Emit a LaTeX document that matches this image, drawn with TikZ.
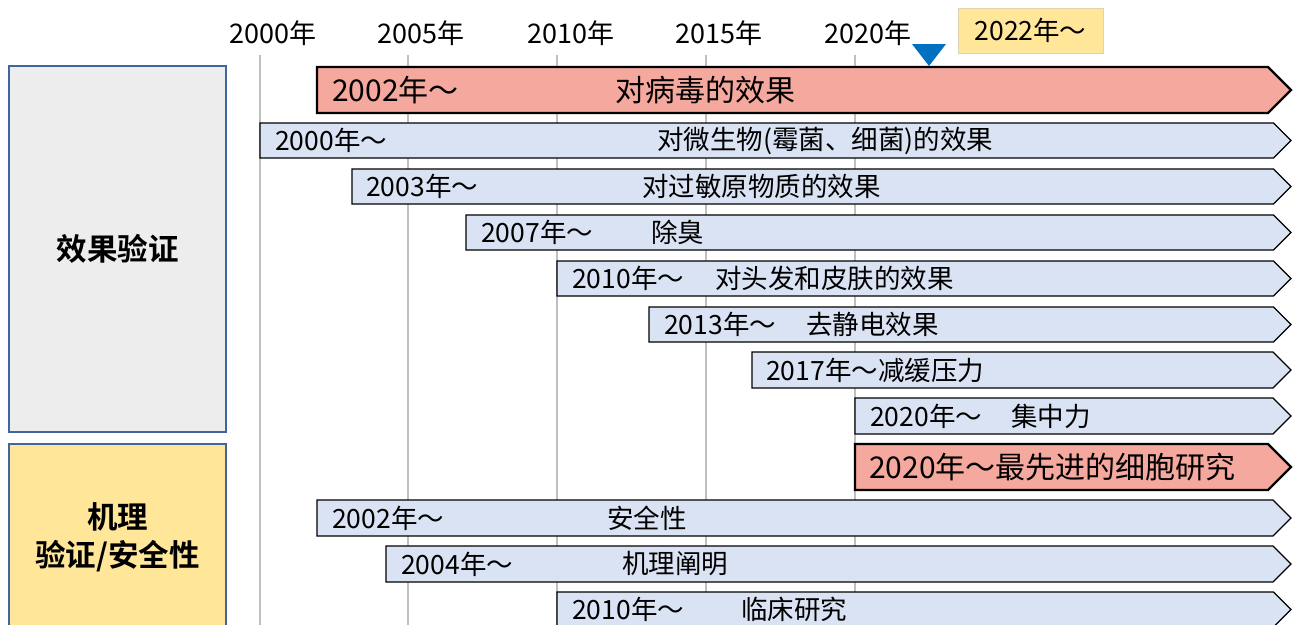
\documentclass[tikz,border=0pt]{standalone}
\usepackage{fontspec}
\setmainfont{Noto Sans CJK SC}[BoldFont={Noto Sans CJK SC Bold}]
\definecolor{barred}{HTML}{F5A89D}
\definecolor{barblue}{HTML}{DAE3F3}
\definecolor{boxgrey}{HTML}{EDEDED}
\definecolor{boxyellow}{HTML}{FFE699}
\definecolor{boxline}{HTML}{41659E}
\definecolor{gridgrey}{HTML}{BFBFBF}
\definecolor{tri}{HTML}{0070C0}
\tikzset{
  gridline/.style={draw=gridgrey, line width=2pt},
  yearlbl/.style={anchor=west, inner sep=0pt, font=\fontsize{27}{30}\selectfont},
  bluebar/.style={draw=black, line width=1.3pt, fill=barblue, line join=miter},
  redbar/.style={draw=black, line width=2.2pt, fill=barred, line join=miter},
  btext/.style={anchor=west, inner sep=0pt, font=\fontsize{26.5}{30}\selectfont},
  rtext/.style={anchor=west, inner sep=0pt, font=\fontsize{30}{34}\selectfont},
  leftbox/.style={draw=boxline, line width=1.3pt},
  lefttext/.style={align=center, inner sep=0pt, font=\bfseries\fontsize{30.5}{38}\selectfont},
  nowbox/.style={fill=boxyellow, draw=boxyellow!80!black!60, line width=0.6pt, minimum width=145pt, minimum height=45pt, inner sep=0pt, font=\fontsize{26.5}{30}\selectfont},
}
% #1 style, #2 left x, #3 top y, #4 bottom y
\newcommand\tlbar[4]{\draw[#1] (#2,#3) -- ({1291-(#4-#3)/2},#3) -- (1291,{(#3+#4)/2}) -- ({1291-(#4-#3)/2},#4) -- (#2,#4) -- cycle;}
\begin{document}
\begin{tikzpicture}[x=1pt,y=-1pt]
\useasboundingbox (0,0) rectangle (1297,624);
\clip (0,0) rectangle (1297,624);
% grid lines
\foreach \gx in {260,408,557,706,855} \draw[gridline] (\gx,55) -- (\gx,640);
% year labels
\node[yearlbl] (y2000) at (229,33) {2000年};
\node[yearlbl] (y2005) at (377,33) {2005年};
\node[yearlbl] (y2010) at (527,33) {2010年};
\node[yearlbl] (y2015) at (675,33) {2015年};
\node[yearlbl] (y2020) at (824,33) {2020年};
% now marker
\fill[tri] (912,44) -- (946,44) -- (929,66) -- cycle;
\node[nowbox] (now) at (1030.5,30.5) {2022年～};
% left boxes
\draw[leftbox, fill=boxgrey] (9,66) rectangle (226,432);
\node[lefttext] (lab1) at (117.5,249) {效果验证};
\draw[leftbox, fill=boxyellow] (9,444) rectangle (226,650);
\node[lefttext] (lab2) at (117.5,537) {机理\\验证/安全性};
% bars
\tlbar{redbar}{317}{67}{113}
\node[rtext] (r1a) at (332,90) {2002年～};
\node[rtext] (r1b) at (615,90) {对病毒的效果};
\tlbar{bluebar}{260}{123}{158}
\node[btext] (r2a) at (275,140.5) {2000年～};
\node[btext] (r2b) at (657,140.5) {对微生物(霉菌、细菌)的效果};
\tlbar{bluebar}{352}{169}{204}
\node[btext] (r3a) at (366,186.5) {2003年～};
\node[btext] (r3b) at (642,186.5) {对过敏原物质的效果};
\tlbar{bluebar}{466}{215}{250}
\node[btext] (r4a) at (481,232.5) {2007年～};
\node[btext] (r4b) at (651,232.5) {除臭};
\tlbar{bluebar}{557}{261}{296}
\node[btext] (r5a) at (572,278.5) {2010年～};
\node[btext] (r5b) at (715,278.5) {对头发和皮肤的效果};
\tlbar{bluebar}{649}{307}{342}
\node[btext] (r6a) at (664,324.5) {2013年～};
\node[btext] (r6b) at (806,324.5) {去静电效果};
\tlbar{bluebar}{752}{352}{388}
\node[btext] (r7a) at (766,370) {2017年～减缓压力};
\tlbar{bluebar}{855}{398}{434}
\node[btext] (r8a) at (870,416) {2020年～};
\node[btext] (r8b) at (1011,416) {集中力};
\tlbar{redbar}{855}{444}{490}
\node[rtext] (r9a) at (869,467) {2020年～最先进的细胞研究};
\tlbar{bluebar}{317}{500}{536}
\node[btext] (r10a) at (332,518) {2002年～};
\node[btext] (r10b) at (607,518) {安全性};
\tlbar{bluebar}{386}{546}{582}
\node[btext] (r11a) at (401,564) {2004年～};
\node[btext] (r11b) at (622,564) {机理阐明};
\tlbar{bluebar}{557}{592}{627}
\node[btext] (r12a) at (572,609.5) {2010年～};
\node[btext] (r12b) at (741,609.5) {临床研究};
\end{tikzpicture}
\end{document}
